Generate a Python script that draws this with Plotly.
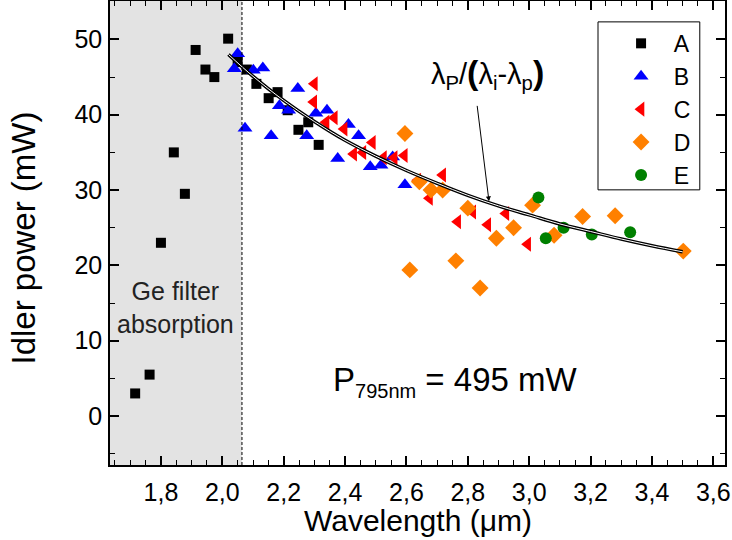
import plotly.graph_objects as go

# ---- data ----
a_x = [1.716, 1.763, 1.800, 1.842, 1.878, 1.913, 1.945, 1.974, 2.019, 2.050, 2.080, 2.111, 2.151, 2.180, 2.213, 2.248, 2.280, 2.314]
a_y = [3.0, 5.5, 23.0, 35.0, 29.5, 48.6, 46.0, 45.0, 50.1, 47.0, 46.0, 44.1, 42.2, 43.0, 40.6, 38.0, 39.0, 36.0]

b_x = [2.039, 2.050, 2.074, 2.101, 2.132, 2.159, 2.186, 2.216, 2.246, 2.275, 2.305, 2.341, 2.376, 2.411, 2.444, 2.482, 2.517, 2.555, 2.595]
b_y = [46.1, 48.1, 38.2, 45.9, 46.2, 37.2, 41.2, 40.6, 43.5, 37.2, 40.2, 40.6, 34.2, 38.7, 37.2, 33.1, 33.3, 34.4, 30.7]

c_x = [2.300, 2.298, 2.338, 2.365, 2.397, 2.428, 2.458, 2.489, 2.525, 2.560, 2.593, 2.637, 2.675, 2.718, 2.767, 2.816, 2.865, 2.924, 2.995]
c_y = [44.1, 41.7, 39.0, 39.6, 38.1, 34.8, 35.0, 36.3, 34.3, 34.3, 34.6, 31.3, 28.9, 32.0, 25.8, 27.1, 25.4, 26.9, 22.8]

d_x = [2.595, 2.611, 2.642, 2.680, 2.718, 2.761, 2.800, 2.840, 2.893, 2.949, 3.011, 3.081, 3.174, 3.280, 3.502]
d_y = [37.5, 19.4, 31.1, 30.0, 30.0, 20.6, 27.6, 17.0, 23.6, 25.0, 28.0, 24.0, 26.5, 26.6, 21.9]

e_x = [3.030, 3.054, 3.112, 3.204, 3.329]
e_y = [29.0, 23.6, 25.0, 24.1, 24.4]

# curve lambda_p/(lambda_i - lambda_p)
curve_x = [2.02, 2.10, 2.20, 2.30, 2.40, 2.50, 2.60, 2.70, 2.80, 2.90, 3.00, 3.10, 3.20, 3.30, 3.40, 3.50]
curve_y = [48.0, 45.1, 41.9, 39.1, 36.6, 34.5, 32.6, 30.9, 29.3, 27.9, 26.7, 25.5, 24.5, 23.5, 22.6, 21.8]

series_names = ["A", "B", "C", "D", "E"]
x_tickvals = [1.8, 2.0, 2.2, 2.4, 2.6, 2.8, 3.0, 3.2, 3.4, 3.6]
y_tickvals = [0, 10, 20, 30, 40, 50]

FONT = "Liberation Sans, Arial, Helvetica, sans-serif"
NB = "\u00a0\u00a0"

fig = go.Figure()

fig.add_trace(go.Scatter(x=a_x, y=a_y, mode="markers", name=NB + series_names[0],
                         marker=dict(symbol="square", size=10, color="black")))
fig.add_trace(go.Scatter(x=b_x, y=b_y, mode="markers", name=NB + series_names[1],
                         marker=dict(symbol="triangle-up", size=13, color="#0000ff")))
fig.add_trace(go.Scatter(x=c_x, y=c_y, mode="markers", name=NB + series_names[2],
                         marker=dict(symbol="triangle-left", size=13, color="#ff0000")))
fig.add_trace(go.Scatter(x=d_x, y=d_y, mode="markers", name=NB + series_names[3],
                         marker=dict(symbol="diamond", size=13, color="#ff8000")))
fig.add_trace(go.Scatter(x=e_x, y=e_y, mode="markers", name=NB + series_names[4],
                         marker=dict(symbol="circle", size=12, color="#008000")))
# double-line look for the curve
fig.add_trace(go.Scatter(x=curve_x, y=curve_y, mode="lines", showlegend=False,
                         line=dict(color="black", width=3.5, shape="spline"), hoverinfo="skip"))
fig.add_trace(go.Scatter(x=curve_x, y=curve_y, mode="lines", showlegend=False,
                         line=dict(color="white", width=1, shape="spline"), hoverinfo="skip"))

# shaded Ge filter region
fig.add_shape(type="rect", xref="x", yref="paper", x0=1.634, x1=2.064, y0=0, y1=1,
              fillcolor="#e3e3e3", line=dict(width=0), layer="below")
fig.add_shape(type="line", xref="x", yref="paper", x0=2.064, x1=2.064, y0=0, y1=1,
              line=dict(color="black", width=1, dash="3px,2px"))

# legend box
fig.add_shape(type="rect", xref="paper", yref="paper", x0=0.7935, x1=0.959, y0=0.593, y1=0.955,
              line=dict(color="black", width=1), fillcolor="rgba(0,0,0,0)")

fig.add_annotation(x=1.849, y=14.4, xref="x", yref="y", text="Ge filter<br>absorption",
                   showarrow=False, font=dict(family=FONT, size=25, color="#222222"))
fig.add_annotation(x=2.865, y=45.5, xref="x", yref="y",
                   text="λ<sub>P</sub>/<b><span style='font-size:34px'>(</span></b>λ<sub>i</sub>-λ<sub>p</sub><b><span style='font-size:34px'>)</span></b>",
                   showarrow=False, font=dict(family=FONT, size=29, color="black"))
fig.add_annotation(x=2.869, y=28.5, xref="x", yref="y", text="", showarrow=True,
                   ax=-12, ay=-97, arrowhead=2, arrowsize=1, arrowwidth=1, arrowcolor="black")
fig.add_annotation(x=2.758, y=4.6, xref="x", yref="y",
                   text="P<sub><span style='font-size:20px'>795nm</span></sub> = 495 mW",
                   showarrow=False, font=dict(family=FONT, size=33, color="black"))

# axis titles as annotations (exact placement)
fig.add_annotation(x=0.5, y=-0.119, xref="paper", yref="paper", text="Wavelength (μm)",
                   showarrow=False, yanchor="middle",
                   font=dict(family=FONT, size=30, color="black"))
fig.add_annotation(x=-0.14, y=0.49, xref="paper", yref="paper", text="Idler power (mW)",
                   showarrow=False, textangle=-90, xanchor="center", yanchor="middle",
                   font=dict(family=FONT, size=33, color="black"))

axis_common = dict(showline=True, linecolor="black", linewidth=1.5, mirror="ticks",
                   ticks="inside", ticklen=9, tickwidth=1.5, tickcolor="black",
                   showgrid=False, zeroline=False, automargin=False,
                   ticklabeloverflow="allow",
                   tickfont=dict(family=FONT, size=25, color="black"))

fig.update_xaxes(range=[1.634, 3.638], tickvals=x_tickvals, tickformat=".1f",
                 minor=dict(ticks="inside", ticklen=5, tickwidth=1.2, dtick=0.05, tick0=1.8, tickcolor="black"),
                 ticklabelstandoff=4,
                 **axis_common)
fig.update_yaxes(range=[-6.5, 55.1], tickvals=y_tickvals,
                 minor=dict(ticks="inside", ticklen=5, tickwidth=1.2, dtick=5, tick0=0, tickcolor="black"),
                 ticklabelstandoff=1,
                 **axis_common)

fig.update_layout(
    width=732, height=540,
    margin=dict(l=110, r=7, t=1, b=75),
    paper_bgcolor="white", plot_bgcolor="white",
    separators=",.",
    font=dict(family=FONT, color="black"),
    legend=dict(x=0.831, y=0.955, xanchor="left", yanchor="top",
                bgcolor="rgba(0,0,0,0)", borderwidth=0,
                font=dict(family=FONT, size=23, color="black"),
                itemwidth=30),
)

fig.write_html("out.html", config={"displayModeBar": False},
               post_script="document.body.style.margin='0px';")
